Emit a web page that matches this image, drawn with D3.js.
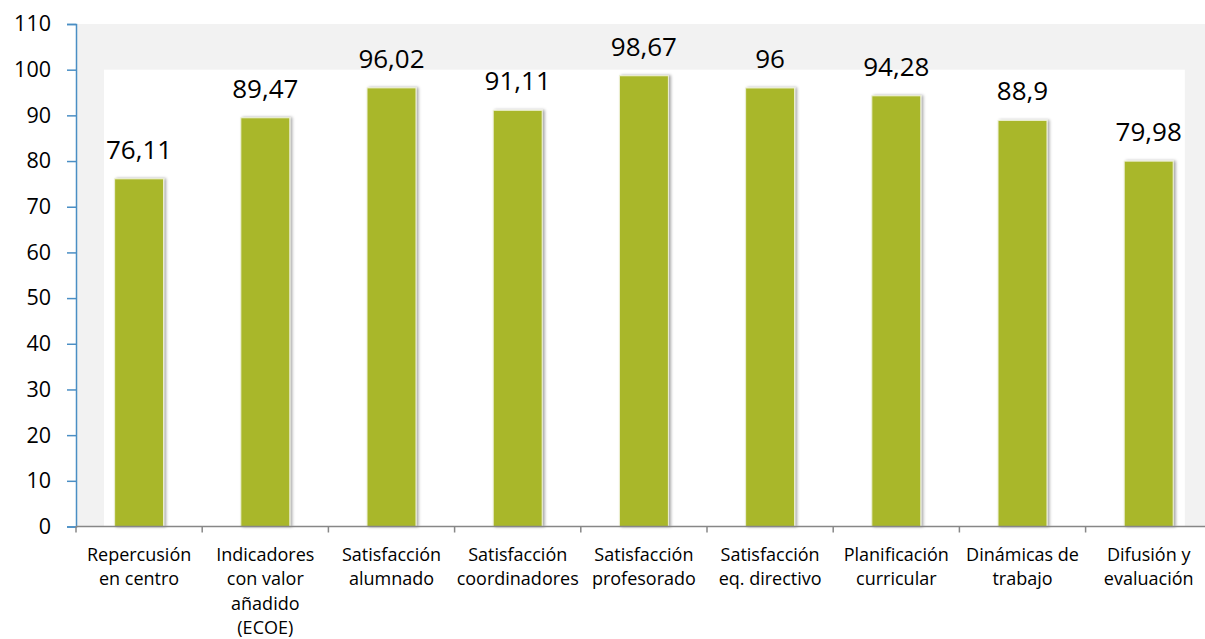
<!DOCTYPE html>
<html>
<head>
<meta charset="utf-8">
<script src="https://cdn.jsdelivr.net/npm/d3@7"></script>
<style>
  html, body { margin: 0; padding: 0; background: #ffffff; }
  svg { display: block; }
  text { font-family: "Open Sans", "Liberation Sans", sans-serif; fill: #000; }
</style>
</head>
<body>
<svg id="chart" width="1205" height="639"></svg>
<script>
// ---- data ----
const categories = [
  "Repercusión en centro",
  "Indicadores con valor añadido (ECOE)",
  "Satisfacción alumnado",
  "Satisfacción coordinadores",
  "Satisfacción profesorado",
  "Satisfacción eq. directivo",
  "Planificación curricular",
  "Dinámicas de trabajo",
  "Difusión y evaluación"
];
const categoryLines = [
  ["Repercusión", "en centro"],
  ["Indicadores", "con valor", "añadido", "(ECOE)"],
  ["Satisfacción", "alumnado"],
  ["Satisfacción", "coordinadores"],
  ["Satisfacción", "profesorado"],
  ["Satisfacción", "eq. directivo"],
  ["Planificación", "curricular"],
  ["Dinámicas de", "trabajo"],
  ["Difusión y", "evaluación"]
];
const values = [76.11, 89.47, 96.02, 91.11, 98.67, 96, 94.28, 88.9, 79.98];
const yTicks = [0, 10, 20, 30, 40, 50, 60, 70, 80, 90, 100, 110];

// ---- layout ----
const svg = d3.select("#chart");
const mLeft = 76, mRight = 1211.8, mTop = 24, mBottom = 526.5;

const x = d3.scaleBand().domain(categories).range([mLeft, mRight])
  .paddingInner(0.612).paddingOuter(0.306);
const xEdge = d3.scaleBand().domain(categories).range([mLeft, mRight]).padding(0);
const y = d3.scaleLinear().domain([0, 110]).range([mBottom, mTop]);

// defs: shadow
const defs = svg.append("defs");
const f = defs.append("filter").attr("id", "shadow")
  .attr("x", "-30%").attr("y", "-10%").attr("width", "160%").attr("height", "120%");
f.append("feDropShadow").attr("dx", 2).attr("dy", 0).attr("stdDeviation", 1.6)
  .attr("flood-color", "#000").attr("flood-opacity", 0.35);

// backgrounds
svg.append("rect").attr("x", mLeft).attr("y", y(110))
  .attr("width", 1205 - mLeft).attr("height", y(0) - y(110)).attr("fill", "#f2f2f2");
svg.append("rect").attr("x", mLeft + 28).attr("y", y(100))
  .attr("width", (mRight - 27) - (mLeft + 28)).attr("height", y(0) - y(100)).attr("fill", "#ffffff");

// bars
svg.append("g").selectAll("rect").data(values).join("rect")
  .attr("x", (d, i) => x(categories[i]))
  .attr("y", d => y(d))
  .attr("width", x.bandwidth())
  .attr("height", d => y(0) - y(d))
  .attr("fill", "#a9b72b")
  .attr("stroke", "#eef1d6")
  .attr("stroke-width", 1)
  .attr("filter", "url(#shadow)");

// data labels
svg.append("g").selectAll("text").data(values).join("text")
  .attr("x", (d, i) => x(categories[i]) + x.bandwidth() / 2)
  .attr("y", d => y(d) - 20)
  .attr("text-anchor", "middle")
  .attr("font-size", "26px")
  .text(d => String(d).replace(".", ","));

// y axis
const yAxis = d3.axisLeft(y).tickValues(yTicks).tickSize(9).tickPadding(16)
  .tickFormat(d3.format("d"));
const gy = svg.append("g").attr("transform", `translate(${mLeft},0)`).call(yAxis);
gy.select(".domain").attr("stroke", "#4a8ec4").attr("stroke-width", 1.5);
gy.selectAll(".tick line").attr("stroke", "#4a8ec4").attr("stroke-width", 1.5);
gy.selectAll(".tick text").attr("font-size", "21.5px")
  .attr("font-family", "'Open Sans', sans-serif").attr("fill", "#000");

// x axis (ticks at category boundaries)
const xAxisG = svg.append("g").attr("transform", `translate(0,${mBottom})`);
xAxisG.append("line").attr("x1", mLeft).attr("x2", mRight).attr("y1", 0).attr("y2", 0)
  .attr("stroke", "#878787").attr("stroke-width", 1.5);
const edges = categories.map(c => xEdge(c)).concat([mRight]);
xAxisG.selectAll("line.tk").data(edges).join("line").attr("class", "tk")
  .attr("x1", d => d).attr("x2", d => d).attr("y1", 0).attr("y2", 6)
  .attr("stroke", "#878787").attr("stroke-width", 1.5);

// category labels
const lab = svg.append("g").selectAll("text").data(categoryLines).join("text")
  .attr("text-anchor", "middle")
  .attr("font-size", "18px")
  .attr("transform", (d, i) => `translate(${xEdge(categories[i]) + xEdge.bandwidth() / 2},${561})`);
lab.selectAll("tspan").data(d => d).join("tspan")
  .attr("x", 0).attr("y", (d, j) => j * 24.4).text(d => d);
</script>
</body>
</html>
